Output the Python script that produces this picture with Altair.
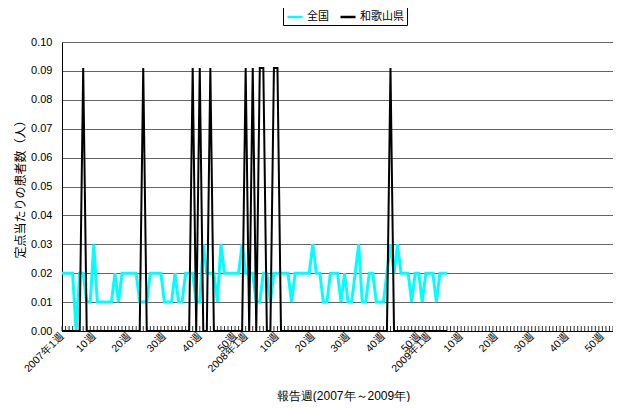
import altair as alt
import pandas as pd

# Week index 0 = 2007年1週, 52 = 2008年1週, 104 = 2009年1週 (axis runs to 2009年53週 = 156)
axis_last_week = 156

zenkoku = [
    0.02, 0.02, 0.02, 0.02, 0.00, 0.02, 0.02, 0.01, 0.01, 0.03,
    0.01, 0.01, 0.01, 0.01, 0.01, 0.02, 0.01, 0.02, 0.02, 0.02,
    0.02, 0.02, 0.01, 0.01, 0.01, 0.02, 0.02, 0.02, 0.02, 0.01,
    0.01, 0.01, 0.02, 0.01, 0.01, 0.02, 0.02, 0.02, 0.01, 0.01,
    0.03, 0.02, 0.02, 0.02, 0.01, 0.03, 0.02, 0.02, 0.02, 0.02,
    0.02, 0.03, 0.02, 0.02, 0.02, 0.01, 0.01, 0.02, 0.02, 0.01,
    0.02, 0.02, 0.02, 0.02, 0.02, 0.01, 0.02, 0.02, 0.02, 0.02,
    0.02, 0.03, 0.02, 0.02, 0.01, 0.01, 0.02, 0.02, 0.02, 0.01,
    0.02, 0.01, 0.01, 0.02, 0.03, 0.01, 0.01, 0.02, 0.02, 0.01,
    0.01, 0.01, 0.02, 0.03, 0.02, 0.03, 0.02, 0.02, 0.02, 0.01,
    0.02, 0.02, 0.01, 0.02, 0.02, 0.02, 0.01, 0.02, 0.02, 0.02,
]

wakayama = [
    0, 0, 0, 0, 0, 0, 0.091, 0, 0, 0,
    0, 0, 0, 0, 0, 0, 0, 0, 0, 0,
    0, 0, 0, 0.091, 0, 0, 0, 0, 0, 0,
    0, 0, 0, 0, 0, 0, 0, 0.091, 0, 0.091,
    0, 0, 0.091, 0, 0, 0, 0, 0, 0, 0,
    0, 0, 0.091, 0, 0.091, 0, 0.091, 0.091, 0, 0,
    0.091, 0.091, 0, 0, 0, 0, 0, 0, 0, 0,
    0, 0, 0, 0, 0, 0, 0, 0, 0, 0,
    0, 0, 0, 0, 0, 0, 0, 0, 0, 0,
    0, 0, 0, 0.091, 0, 0, 0, 0, 0, 0,
    0, 0, 0, 0, 0, 0, 0, 0, 0, 0,
]

series_names = ["全国", "和歌山県"]
series_colors = ["#00FFFF", "#000000"]

tick_positions = [0, 9, 19, 29, 39, 49, 52, 61, 71, 81, 91, 101, 104, 113, 123, 133, 143, 153]
tick_labels = ["2007年1週", "10週", "20週", "30週", "40週", "50週",
               "2008年1週", "10週", "20週", "30週", "40週", "50週",
               "2009年1週", "10週", "20週", "30週", "40週", "50週"]

y_ticks = [0.00, 0.01, 0.02, 0.03, 0.04, 0.05, 0.06, 0.07, 0.08, 0.09, 0.10]

x_title = "報告週(2007年～2009年)"
y_title = "定点当たりの患者数（人）"

rows = []
for i, v in enumerate(zenkoku):
    rows.append({"idx": i, "series": series_names[0], "value": v})
for i, v in enumerate(wakayama):
    rows.append({"idx": i, "series": series_names[1], "value": v})
df = pd.DataFrame(rows)

week_ticks = pd.DataFrame({"idx": list(range(axis_last_week + 1))})

label_expr = " : ".join(
    f"datum.value == {p} ? '{l}'" for p, l in zip(tick_positions, tick_labels)
) + " : ''"

FONT = "Noto Sans CJK JP"
W, H = 551, 289

x_scale = alt.Scale(domain=[0, axis_last_week], nice=False, zero=False)
y_scale = alt.Scale(domain=[0, 0.10], nice=False)
color_scale = alt.Scale(domain=series_names, range=series_colors)

x_axis = alt.Axis(
    values=tick_positions, labelExpr=label_expr, labelAngle=315,
    labelAlign="right", labelBaseline="middle", labelPadding=3,
    labelFlush=False, labelOverlap=False, labelFontSize=10.5,
    tickSize=0, grid=False, domainColor="black",
    title=x_title, titleFontSize=12, titleFontWeight="normal",
    titleX=281, titleY=64, titleAlign="center", titleBaseline="middle",
)
y_axis = alt.Axis(
    values=y_ticks, format=".2f", labelFontSize=11, labelPadding=10,
    tickSize=0, grid=True, gridColor="#666666", gridWidth=1, domainColor="black",
    title=None,
)

legend = alt.Legend(
    title=None, orient="none", direction="horizontal", legendX=221, legendY=-37,
    symbolType="stroke", symbolSize=225, symbolStrokeWidth=2.5,
    labelFontSize=11, labelFont=FONT, labelOffset=3, columnPadding=6,
    padding=3, strokeColor="black", fillColor="white",
)

ticks = alt.Chart(week_ticks).mark_rule(color="#333333", strokeWidth=1).encode(
    x=alt.X("idx:Q", scale=x_scale, axis=x_axis),
    y=alt.value(H - 5), y2=alt.value(H),
)

ytitle = alt.Chart(pd.DataFrame({"t": [y_title]})).mark_text(
    angle=270, align="center", baseline="middle", font=FONT, fontSize=12, color="black"
).encode(
    text="t:N", x=alt.value(-41), y=alt.value(H / 2),
)

base = alt.Chart(df)
line_z = base.transform_filter(alt.datum.series == series_names[0]).mark_line(
    strokeWidth=3
).encode(
    x=alt.X("idx:Q", scale=x_scale, axis=x_axis),
    y=alt.Y("value:Q", scale=y_scale, axis=y_axis),
    color=alt.Color("series:N", scale=color_scale, legend=legend),
)
line_w = base.transform_filter(alt.datum.series == series_names[1]).mark_line(
    strokeWidth=2
).encode(
    x=alt.X("idx:Q", scale=x_scale, axis=x_axis),
    y=alt.Y("value:Q", scale=y_scale, axis=y_axis),
    color=alt.Color("series:N", scale=color_scale, legend=legend),
)

chart = alt.layer(ticks, line_z, line_w, ytitle).properties(
    width=W, height=H,
    autosize=alt.AutoSizeParams(type="none"),
    padding={"left": 54, "top": 34, "right": 0, "bottom": 71},
).configure_view(
    stroke="black", strokeWidth=1
).configure_axis(
    labelFont=FONT, titleFont=FONT, labelColor="black", titleColor="black"
).configure(background="white")

chart.save("out.html", embed_options={"renderer": "svg", "actions": False})
